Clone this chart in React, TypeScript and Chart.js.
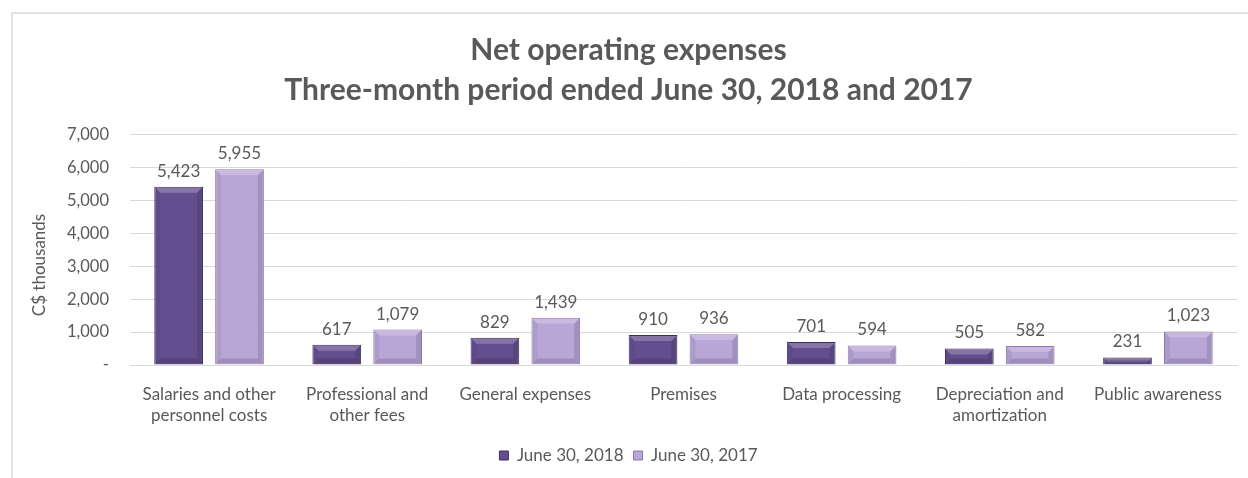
import React, { useEffect, useRef } from "react";
import { Chart, registerables } from "chart.js";

Chart.register(...registerables);

const titleLines = ["Net operating expenses", "Three-month period ended June 30, 2018 and 2017"];
const categories: (string | string[])[] = [
  ["Salaries and other", "personnel costs"],
  ["Professional and", "other fees"],
  "General expenses",
  "Premises",
  "Data processing",
  ["Depreciation and", "amortization"],
  "Public awareness",
];
const seriesNames = ["June 30, 2018", "June 30, 2017"];
const values2018 = [5423, 617, 829, 910, 701, 505, 231];
const values2017 = [5955, 1079, 1439, 936, 594, 582, 1023];
const yAxisTitle = "C$ thousands";
const yMin = 0;
const yMax = 7000;
const yStep = 1000;

const TEXT = "#595959";
const FONT = "Lato, 'Noto Sans', sans-serif";

const fmt = (v: number) => (v === 0 ? "-" : v.toLocaleString("en-US"));

const bevelPlugin = {
  id: "bevel",
  afterDatasetsDraw(chart: any) {
    const ctx = chart.ctx;
    chart.data.datasets.forEach((ds: any, di: number) => {
      const meta = chart.getDatasetMeta(di);
      meta.data.forEach((el: any) => {
        const { x, y, base, width } = el.getProps(["x", "y", "base", "width"], true);
        const l = x - width / 2;
        const h = base - y;
        const b = Math.min(5, h / 2);
        ctx.save();
        ctx.fillStyle = "rgba(255,255,255,0.22)";
        ctx.beginPath();
        ctx.moveTo(l + 1, y + 1);
        ctx.lineTo(l + width - 1, y + 1);
        ctx.lineTo(l + width - 1 - b, y + 1 + b);
        ctx.lineTo(l + 1 + b, y + 1 + b);
        ctx.closePath();
        ctx.fill();
        ctx.fillStyle = "rgba(0,0,0,0.12)";
        ctx.beginPath();
        ctx.moveTo(l + width - 1, y + 1);
        ctx.lineTo(l + width - 1, base - 1);
        ctx.lineTo(l + width - 1 - b, base - 1 - b);
        ctx.lineTo(l + width - 1 - b, y + 1 + b);
        ctx.closePath();
        ctx.fill();
        ctx.fillStyle = "rgba(0,0,0,0.06)";
        ctx.beginPath();
        ctx.moveTo(l + 1, y + 1);
        ctx.lineTo(l + 1, base - 1);
        ctx.lineTo(l + 1 + b, base - 1 - b);
        ctx.lineTo(l + 1 + b, y + 1 + b);
        ctx.closePath();
        ctx.fill();
        ctx.fillStyle = "rgba(0,0,0,0.14)";
        ctx.beginPath();
        ctx.moveTo(l + 1, base - 1);
        ctx.lineTo(l + width - 1, base - 1);
        ctx.lineTo(l + width - 1 - b, base - 1 - b);
        ctx.lineTo(l + 1 + b, base - 1 - b);
        ctx.closePath();
        ctx.fill();
        ctx.restore();
      });
    });
  },
};

const valueLabelPlugin = {
  id: "valueLabels",
  afterDatasetsDraw(chart: any) {
    const ctx = chart.ctx;
    ctx.save();
    ctx.font = `17px ${FONT}`;
    ctx.fillStyle = TEXT;
    ctx.textAlign = "center";
    ctx.textBaseline = "bottom";
    chart.data.datasets.forEach((ds: any, di: number) => {
      const meta = chart.getDatasetMeta(di);
      meta.data.forEach((el: any, i: number) => {
        ctx.fillText(fmt(ds.data[i]), el.x, el.y - 7);
      });
    });
    ctx.restore();
  },
};

const yTitlePlugin = {
  id: "yTitle",
  afterDraw(chart: any) {
    const { ctx, chartArea } = chart;
    ctx.save();
    ctx.font = `17px ${FONT}`;
    ctx.fillStyle = TEXT;
    ctx.textAlign = "center";
    ctx.textBaseline = "middle";
    ctx.translate(chartArea.left - 90, (chartArea.top + chartArea.bottom) / 2 + 15);
    ctx.rotate(-Math.PI / 2);
    ctx.fillText(yAxisTitle, 0, 0);
    ctx.restore();
  },
};

export default function App() {
  const ref = useRef<HTMLCanvasElement | null>(null);
  useEffect(() => {
    document.body.style.margin = "0";
    if (!ref.current) return;
    const chart = new Chart(ref.current, {
      type: "bar",
      data: {
        labels: categories,
        datasets: [
          {
            label: seriesNames[0],
            data: values2018,
            backgroundColor: "#634f8f",
            borderColor: "#3e2f61",
            borderWidth: 1,
            barPercentage: 0.8,
            categoryPercentage: 0.77,
          },
          {
            label: seriesNames[1],
            data: values2017,
            backgroundColor: "#b8a6d7",
            borderColor: "#8b78ae",
            borderWidth: 1,
            barPercentage: 0.8,
            categoryPercentage: 0.77,
          },
        ],
      },
      options: {
        animation: false,
        responsive: false,
        maintainAspectRatio: false,
        layout: { padding: { top: 10, left: 20, right: 11, bottom: 4 } },
        font: { family: FONT },
        plugins: {
          title: {
            display: true,
            text: titleLines,
            color: TEXT,
            font: { family: FONT, size: 30, weight: "bold", lineHeight: 1.333 },
            padding: { top: 20, bottom: 25 },
          },
          legend: {
            position: "bottom",
            labels: {
              color: TEXT,
              font: { family: FONT, size: 17 },
              boxWidth: 9,
              boxHeight: 9,
              padding: 10,
            },
          },
          tooltip: { enabled: false },
        },
        scales: {
          x: {
            grid: { display: false },
            border: { color: "#d9d9d9" },
            ticks: {
              color: TEXT,
              font: { family: FONT, size: 17, lineHeight: 1.25 },
              padding: 11,
              maxRotation: 0,
              autoSkip: false,
            },
            afterFit: (scale: any) => {
              scale.height = 72;
            },
          },
          y: {
            min: yMin,
            max: yMax,
            grid: { color: "#d9d9d9", drawTicks: false },
            border: { display: false },
            ticks: {
              stepSize: yStep,
              color: TEXT,
              font: { family: FONT, size: 16.5 },
              padding: 21,
              callback: (v: any) => fmt(Number(v)),
            },
            afterFit: (scale: any) => {
              scale.width = 110;
            },
          },
        },
      },
      plugins: [bevelPlugin, valueLabelPlugin, yTitlePlugin],
    });
    return () => chart.destroy();
  }, []);
  return (
    <div style={{ position: "relative", width: 1248, height: 478, background: "#fff" }}>
      <div
        style={{
          position: "absolute",
          left: 11,
          top: 12,
          right: -4,
          bottom: -4,
          borderLeft: "2px solid #e3e3e3",
          borderTop: "2px solid #e3e3e3",
        }}
      />
      <canvas ref={ref} width={1248} height={478} style={{ position: "absolute", left: 0, top: 0, display: "block" }} />
    </div>
  );
}
